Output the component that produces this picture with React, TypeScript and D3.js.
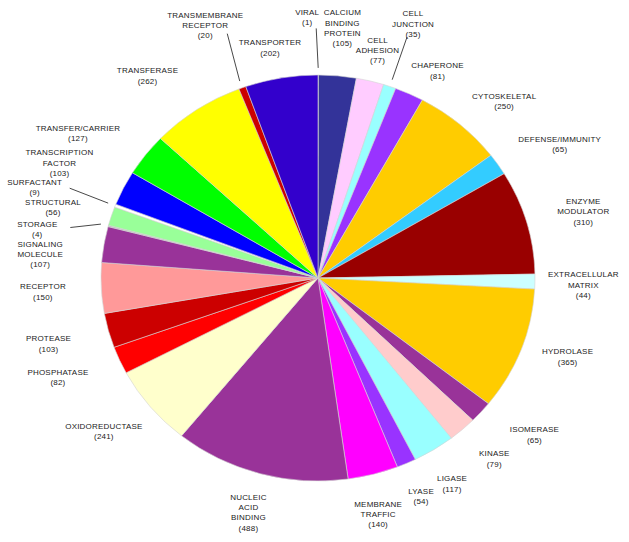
import React from "react";
import * as d3 from "d3";

const width = 629;
const height = 542;
const cx = 318;
const cy = 278;
const rx = 217;
const ry = 203;

const categories = [
  "VIRAL",
  "CALCIUM\nBINDING\nPROTEIN",
  "CELL\nADHESION",
  "CELL\nJUNCTION",
  "CHAPERONE",
  "CYTOSKELETAL",
  "DEFENSE/IMMUNITY",
  "ENZYME\nMODULATOR",
  "EXTRACELLULAR\nMATRIX",
  "HYDROLASE",
  "ISOMERASE",
  "KINASE",
  "LIGASE",
  "LYASE",
  "MEMBRANE\nTRAFFIC",
  "NUCLEIC\nACID\nBINDING",
  "OXIDOREDUCTASE",
  "PHOSPHATASE",
  "PROTEASE",
  "RECEPTOR",
  "SIGNALING\nMOLECULE",
  "STORAGE",
  "STRUCTURAL",
  "SURFACTANT",
  "TRANSCRIPTION\nFACTOR",
  "TRANSFER/CARRIER",
  "TRANSFERASE",
  "TRANSMEMBRANE\nRECEPTOR",
  "TRANSPORTER",
];

const counts = [
  1, 105, 77, 35, 81, 250, 65, 310, 44, 365, 65, 79, 117, 54, 140, 488, 241,
  82, 103, 150, 107, 4, 56, 9, 103, 127, 262, 20, 202,
];

const colors = [
  "#c8c8e0", "#333399", "#ffccff", "#99ffff", "#9933ff", "#ffcc00",
  "#33ccff", "#990000", "#ccffff", "#ffcc00", "#993399", "#ffcccc",
  "#99ffff", "#9933ff", "#ff00ff", "#993399", "#ffffcc", "#ff0000",
  "#cc0000", "#ff9999", "#993399", "#c0c0c0", "#99ff99", "#ffffff",
  "#0000ff", "#00ff00", "#ffff00", "#cc0000", "#3300cc",
];

// label nudges away from the default anchor (mid angle, 1.2 x radius)
const labelNudge: [number, number][] = [
  [-11, -17], [1, -7], [-3, 9], [9, -24], [10, 14], [16, 8], [26, 3],
  [15, 1], [5, 3], [6, -7], [21, -4], [3, -1], [-5, 0], [-3, -4], [-6, 1],
  [0, 0], [-13, -1], [-22, 1], [-18, 3], [-15, 2], [-21, 17], [-29, 14],
  [-17, 4], [-40, -4], [-25, -7], [-33, 3], [-25, 0], [-22, -24], [-4, 10],
];

// leader line start relative to the label centre (only small slices)
const leaders: Record<number, [number, number]> = {
  0: [9, 11],
  3: [-6, 13],
  27: [22, 8],
  21: [33, -2],
  23: [35, 1],
};

const lineHeight = 10.3;

export default function App() {
  const pie = d3
    .pie<number>()
    .sort(null)
    .value((d) => d)
    .startAngle(0)
    .endAngle(2 * Math.PI);
  const arcs = pie(counts);
  const arc = d3.arc<d3.PieArcDatum<number>>().innerRadius(0).outerRadius(ry);

  const onEllipse = (a: number, k: number): [number, number] => [
    cx + rx * k * Math.sin(a),
    cy - ry * k * Math.cos(a),
  ];

  return (
    <div style={{ position: "absolute", left: 0, top: 0 }}>
      <svg width={width} height={height} style={{ display: "block", background: "#fff" }}>
        <g transform={`translate(${cx},${cy}) scale(${rx / ry},1)`}>
          {arcs.map((d, i) => (
            <path
              key={i}
              d={arc(d) || ""}
              fill={colors[i]}
              stroke="#d4d4d4"
              strokeWidth={0.6}
              vectorEffect="non-scaling-stroke"
            />
          ))}
        </g>
        <g
          fontFamily="Arial, 'Liberation Sans', sans-serif"
          fontSize={8}
          letterSpacing={0.2}
          fill="#222"
          textAnchor="middle"
        >
          {arcs.map((d, i) => {
            const mid = (d.startAngle + d.endAngle) / 2;
            const [bx, by] = onEllipse(mid, 1.2);
            const x = bx + labelNudge[i][0];
            const y = by + labelNudge[i][1];
            const lines = [...categories[i].split("\n"), `(${counts[i]})`];
            const n = lines.length;
            const lead = leaders[i];
            const edge = onEllipse(mid, 1.035);
            return (
              <g key={i}>
                {lead && (
                  <line
                    x1={x + lead[0]}
                    y1={y + lead[1]}
                    x2={edge[0]}
                    y2={edge[1]}
                    stroke="#333"
                    strokeWidth={0.9}
                  />
                )}
                {lines.map((t, j) => (
                  <text
                    key={j}
                    x={x}
                    y={y + (j - (n - 1) / 2) * lineHeight}
                    dominantBaseline="central"
                  >
                    {t}
                  </text>
                ))}
              </g>
            );
          })}
        </g>
      </svg>
    </div>
  );
}
